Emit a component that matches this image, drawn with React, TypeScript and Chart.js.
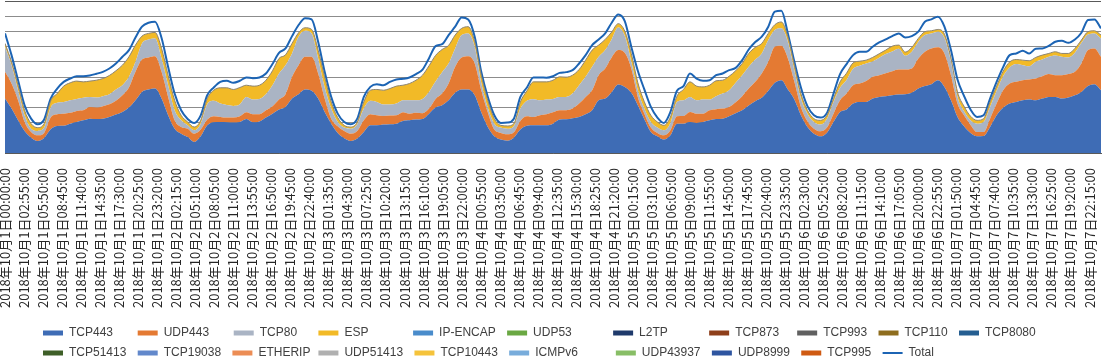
import React, { useEffect, useRef } from 'react';
import { Chart, registerables } from 'chart.js';

Chart.register(...registerables);

// ---- data (hourly samples, 2018-10-01 00:00 .. 2018-10-08 00:00), share of axis (0..100) ----
const SAMPLE_MINUTES = 60;
const X_MAX_MINUTES = 10080;
const TICK_STEP_MINUTES = 175;
const TICK_COUNT = 58;

const TCP443 = [
  35.8, 29.2, 21.5, 14.5, 10.1, 7.9, 9.9, 15.6, 17.8, 18, 19.3, 20.4, 21.5, 22.6, 22.4, 22.6, 23.7, 25.3, 27, 29.9, 34.7, 40.2, 41.8, 42.4, 35.8,
  24.8, 16, 12.7, 10.5, 7.3, 11, 18.2, 20.2, 20.4, 20.2, 20, 20.4, 22.4, 20.2, 20.7, 23.3, 25.9, 28.6, 30.3, 35.8, 38.7, 41.8, 40.9, 35.8,
  27, 19.3, 13.2, 9.7, 7.9, 9.5, 13.8, 18.2, 18.2, 18.7, 18.9, 19.3, 21.1, 21.5, 22, 22.4, 25.9, 29.9, 31.4, 34.7, 39.6, 41.8, 41.8, 38,
  26.8, 17.1, 11, 8.8, 8.1, 10.1, 15.4, 18, 18.2, 18.2, 18.2, 19.3, 22, 22.2, 22.9, 23.7, 25.5, 28.1, 34.7, 35.8, 40, 45.1, 43.5, 39.6,
  31.4, 22.2, 13.8, 11, 8.8, 11.6, 19.3, 19.3, 20.4, 19.8, 20.4, 21.5, 22.4, 22.6, 24.2, 26.2, 28.1, 31.2, 34.1, 36.3, 40.9, 46.2, 47.9, 41.8,
  35.2, 24.8, 17.1, 12.7, 11, 13.4, 20.4, 27, 28.6, 32.5, 33.6, 33.6, 35.8, 36.9, 37.4, 38, 38.5, 38.7, 39.6, 42.4, 44, 45.3, 47.9, 43.5,
  34.7, 23.7, 17.6, 13.2, 11, 11.2, 17.1, 24.8, 29.7, 32.5, 33.6, 34.7, 35.2, 34.7, 35.8, 36.9, 36.9, 35.8, 36.5, 38, 40.2, 44, 45.3, 41.3,
];
const UDP443 = [
  17.6, 16.5, 13.2, 5.9, 3.7, 3.7, 3.3, 7.7, 7.7, 7.9, 7.1, 7.3, 6.6, 7.7, 7.5, 8.2, 8.4, 9, 11, 13.2, 18.7, 21.3, 21.1, 21.3, 17.6,
  12.1, 5.5, 4.4, 5.5, 5.4, 4.4, 3.8, 4, 3.3, 3.1, 3.3, 3.8, 4.4, 5.3, 4.8, 4.8, 4.9, 6.6, 8.4, 14.3, 19.1, 21.5, 22.4, 16.5,
  8.8, 3.3, 4.4, 4.8, 4.8, 5, 7.7, 7.3, 6.6, 5.7, 5.7, 5.5, 5.7, 4.4, 4.4, 3.8, 3.3, 5.7, 7.7, 11, 17.1, 21.1, 21.9, 20.9,
  14.5, 9.7, 4.4, 4.4, 4.2, 3.5, 5.7, 6.2, 5.5, 6.6, 7.3, 7.5, 6.1, 5.9, 6.3, 8.8, 11.4, 13.2, 16.5, 19.8, 22.9, 22.6, 22.4, 16,
  5.5, 3.7, 2.9, 2.2, 2.8, 3.3, 4.9, 5.1, 6.6, 6.1, 5.5, 6.6, 6.4, 6.6, 6.1, 7.2, 9.3, 11.2, 12.7, 16, 19.1, 23.7, 22.6, 20.4,
  11.6, 5.5, 3.8, 3.3, 3.3, 3.3, 5.5, 7.7, 10.5, 12.1, 12.1, 13.7, 14.3, 14.3, 15.1, 15.8, 16.4, 16.2, 16, 19.8, 22.6, 23.5, 21.6, 22,
  16.5, 8.8, 7.2, 5.3, 2.8, 2.6, 5.5, 7.7, 11.6, 13.2, 13.2, 13.2, 13.2, 14.3, 14.7, 15, 14.3, 15.4, 15.4, 15.4, 18.7, 23.7, 23.5, 22,
];
const TCP80 = [
  16.5, 12.1, 6.6, 4.4, 2.2, 2.9, 3.5, 6.6, 7.5, 7.7, 8.3, 7.9, 8.2, 6.6, 6.6, 6.6, 6.6, 7.5, 6.6, 7, 6.6, 10.6, 11.8, 11.7, 8.8,
  7.7, 6.6, 4.4, 2.2, 2.2, 3.9, 10.1, 10.1, 8.8, 8.3, 7.7, 7.9, 10.1, 9.7, 10.1, 10.6, 13.8, 17.1, 19.1, 15.4, 18.7, 17.1, 15.4, 9.9,
  7.3, 6.6, 2.8, 2.2, 3.3, 4.4, 7.7, 8.8, 8.8, 7.5, 7.3, 7.7, 7.9, 8.8, 8.3, 9.4, 11, 11.4, 14.1, 13.2, 12.1, 14.7, 15, 11,
  4.9, 2.9, 3.9, 3.5, 3.7, 4, 8.1, 10.1, 11.7, 9.9, 9.7, 8.8, 8.8, 8.8, 9.9, 12.1, 13.2, 15.4, 12.1, 12.1, 12, 14.9, 11.2, 4.4,
  4.4, 3.3, 3.7, 3.5, 3.3, 4.9, 9.4, 10.3, 9.9, 8.8, 9.3, 7.1, 8.6, 9.9, 11, 12.8, 13.8, 14.3, 14.7, 13.2, 14.3, 11, 11.5, 11,
  7.5, 5.5, 5, 4.4, 4.4, 5.9, 7.7, 8.2, 9, 10.8, 11.7, 11.6, 10.1, 11.4, 12.6, 13, 13.7, 9.1, 11, 11, 11, 9.9, 10.3, 10.3,
  8.8, 4.4, 2.7, 3, 5.5, 6.6, 7.7, 8.4, 9.2, 10.6, 11.7, 9.9, 8.7, 11, 11, 11.4, 13, 12.1, 11, 12.5, 13.6, 10.3, 9.9, 12.1,
];
const ESP = [
  2.2, 2.2, 3.3, 3.3, 3.3, 2.2, 2.6, 4.4, 6.1, 10.4, 11.5, 11.7, 10.5, 10.4, 11.4, 11.6, 12.3, 12.3, 13.2, 13.2, 11, 4.8, 4, 3.9, 6.6,
  6.6, 6.6, 3.3, 2.2, 2.2, 2.2, 3.7, 7, 10.4, 11.3, 10.8, 11, 7.7, 8.8, 9, 9.2, 9.5, 9.9, 6.8, 6.6, 2.6, 2, 2.6, 5.5,
  7, 4.4, 2.9, 1.5, 1.1, 1.5, 4.4, 7, 8.2, 9.4, 10.5, 11.5, 9.9, 11, 13.2, 15.6, 17.2, 17.2, 14.9, 11.9, 8.8, 4.4, 4.4, 3.3,
  5, 5, 3.3, 1.5, 1.8, 1.7, 4.4, 6.6, 11.4, 12.1, 11.6, 12.3, 13.2, 13, 12.1, 10.3, 11, 11, 7.7, 7, 4.7, 2.5, 3.1, 5.5,
  5, 4.5, 4.4, 3.7, 3.3, 3.9, 3.8, 7.1, 9.9, 9.3, 8.3, 9.4, 10.1, 8.8, 9.2, 7.9, 7.7, 8.8, 8, 6.6, 4.4, 3.5, 4.2, 3.3,
  3.5, 3.3, 2.2, 2.2, 2.8, 2.2, 2.2, 3.9, 4.4, 3.9, 3, 2.2, 2.7, 2.7, 2.6, 3.5, 2.4, 2.4, 2.9, 2.2, 2.2, 1.7, 1.5, 2.4,
  2.6, 3.3, 3.3, 2.7, 2.2, 2.2, 3.3, 3.1, 3.3, 3.6, 3, 3.3, 3.6, 2.9, 2.9, 2.2, 2.4, 2.2, 2.6, 2.9, 1.8, 1.8, 1.7, 2.2,
];
const TOTAL = [
  78.7, 64.4, 47.9, 31.4, 22.6, 18.9, 22, 35.8, 42.4, 46.8, 49, 50.5, 50.5, 51, 52.1, 53.4, 55.6, 58.9, 63.3, 67.7, 76, 83.1, 85.7, 86.4, 75.6,
  56.7, 39.1, 28.1, 22.4, 19.8, 24.8, 38, 43.1, 46.8, 47.5, 46.2, 47.5, 49.7, 49.2, 49.7, 52.3, 58.5, 65.9, 68.8, 76.9, 84.2, 88.6, 87.9, 73.2,
  53.4, 36.9, 25.9, 20.4, 18.9, 22.6, 36.9, 43.5, 45.3, 44.6, 46.8, 48.4, 48.8, 49.7, 51.9, 54.9, 62.4, 70.3, 71.6, 77.6, 83.1, 89.2, 87.9, 76.5,
  53.4, 36.9, 24.8, 19.8, 20, 22.6, 36.9, 43.1, 49.7, 49.7, 49.5, 50.5, 52.7, 53.2, 54.5, 58.9, 64.4, 71, 74.7, 78.7, 85.7, 91.2, 86.8, 69.9,
  54.1, 41.8, 30.3, 23.3, 19.8, 27, 40.9, 44, 52.3, 49, 47.5, 47.9, 51.2, 52.3, 54.5, 56, 61.1, 68.1, 73, 76.5, 83.1, 93, 93.6, 78.7,
  60, 43.1, 30.8, 24.8, 23.3, 26.4, 39.1, 51.9, 58.5, 64.4, 66.6, 66.6, 69.9, 72.7, 74.7, 76.9, 78.7, 76, 76.9, 79.8, 86.4, 87.9, 89.7, 83.1,
  67.7, 48.4, 37.6, 28.6, 23.7, 24.8, 35.8, 46.8, 56.5, 64.4, 65.5, 67.3, 65.5, 68.6, 68.8, 70.5, 73.2, 73.8, 72.5, 74.7, 79.1, 87.5, 87.9, 82,
];

// minor protocols: present in the legend, too small to be seen in the plot
const MINOR_LABELS = [
  'IP-ENCAP', 'UDP53', 'L2TP', 'TCP873', 'TCP993', 'TCP110', 'TCP8080',
  'TCP51413', 'TCP19038', 'ETHERIP', 'UDP51413', 'TCP10443', 'ICMPv6', 'UDP43937', 'UDP8999', 'TCP995',
];
const MINOR_COLORS = [
  '#4A8CCB', '#6AA843', '#1F3A6B', '#8E3F1A', '#606060', '#8E6D1E', '#255E91',
  '#3E5F28', '#6288CB', '#EC8D55', '#B0B0B0', '#F5C33B', '#78ACDB', '#88BE66', '#2E55A0', '#CF5A12',
];

const TICK_LABELS = Array.from({ length: TICK_COUNT }, (_, k) => {
  const m = k * TICK_STEP_MINUTES;
  const day = 1 + Math.floor(m / 1440);
  const hh = Math.floor((m % 1440) / 60);
  const mm = m % 60;
  const p = (n: number) => String(n).padStart(2, '0');
  return `2018年10月${day}日${p(hh)}:${p(mm)}:00`;
});

// ---- style ----
const LEGEND_FONT = { size: 12, family: '"Liberation Sans", Arial, sans-serif' };
const LEGEND_PITCH = [96, 95, 84, 96, 94, 106, 96, 89, 80, 80, 80];
const LEGEND_LEFT = 35;

const toPoints = (arr: number[]) => arr.map((y, i) => ({ x: i * SAMPLE_MINUTES, y }));

function padToWidth(text: string, target: number, font: string) {
  const c = document.createElement('canvas').getContext('2d')!;
  c.font = font;
  let t = text;
  while (Math.abs(c.measureText(t + ' ').width - target) < Math.abs(c.measureText(t).width - target)) t += ' ';
  return t;
}

const legendOffset = {
  id: 'legendOffset',
  afterLayout(chart: any) {
    if (chart.legend) chart.legend.left = LEGEND_LEFT;
  },
};

export default function App() {
  const ref = useRef<HTMLCanvasElement>(null);
  useEffect(() => {
    document.body.style.margin = '0';
    const area = (label: string, data: number[], color: string, fill: any, extra: any = {}) => ({
      label,
      data: toPoints(data),
      backgroundColor: color,
      borderColor: color,
      borderWidth: 0,
      fill,
      pointRadius: 0,
      pointStyle: 'rect',
      stack: 'traffic',
      cubicInterpolationMode: 'monotone',
      ...extra,
    });
    const datasets: any[] = [
      area('TCP443', TCP443, '#3E6CB5', 'origin'),
      area('UDP443', UDP443, '#E47A33', '-1'),
      area('TCP80', TCP80, '#AAB4C4', '-1'),
      area('ESP', ESP, '#F2BA27', '-1', { borderColor: '#8C8473', borderWidth: 1 }),
      ...MINOR_LABELS.map((l, i) => area(l, [], MINOR_COLORS[i], false)),
      {
        label: 'Total',
        data: toPoints(TOTAL),
        borderColor: '#1C64B4',
        backgroundColor: '#1C64B4',
        borderWidth: 2,
        fill: false,
        pointRadius: 0,
        pointStyle: 'line',
        stack: 'total',
        cubicInterpolationMode: 'monotone',
      },
    ];
    const fontStr = `${LEGEND_FONT.size}px ${LEGEND_FONT.family}`;
    const chart = new Chart(ref.current!, {
      type: 'line',
      data: { datasets },
      plugins: [legendOffset],
      options: {
        animation: false,
        responsive: true,
        maintainAspectRatio: false,
        devicePixelRatio: 1,
        layout: { padding: { top: 1, bottom: -10, left: 0, right: 0 } },
        plugins: {
          tooltip: { enabled: false },
          legend: {
            position: 'bottom',
            align: 'start',
            labels: {
              usePointStyle: true,
              pointStyleWidth: 20,
              boxWidth: 20,
              boxHeight: 5,
              padding: 8,
              color: '#404040',
              font: LEGEND_FONT,
              generateLabels(c: any) {
                const items = Chart.defaults.plugins.legend.labels.generateLabels(c);
                items.forEach((it: any, i: number) => {
                  const col = i < 11 ? i : i - 11;
                  it.text = padToWidth(it.text, LEGEND_PITCH[col] - 34, fontStr);
                  if (it.pointStyle !== 'line') it.lineWidth = 0;
                });
                return items;
              },
            },
          },
        },
        scales: {
          x: {
            type: 'linear',
            min: 0,
            max: X_MAX_MINUTES,
            bounds: 'data',
            grid: { display: false, drawTicks: false, tickLength: 0 },
            border: { display: true, color: '#595959', width: 1, z: 1 },
            ticks: {
              autoSkip: false,
              minRotation: 90,
              maxRotation: 90,
              padding: 15,
              color: '#262626',
              font: { size: 13, family: '"Noto Sans CJK JP", sans-serif' },
              callback: (v: any) => TICK_LABELS[Math.round(Number(v) / TICK_STEP_MINUTES)] ?? '',
            },
            afterBuildTicks: (s: any) => {
              s.ticks = TICK_LABELS.map((_, k) => ({ value: k * TICK_STEP_MINUTES }));
            },
            afterFit: (s: any) => {
              s.height = 166;
              s.paddingLeft = 5;
              s.paddingRight = 2;
            },
          },
          y: {
            stacked: true,
            min: 0,
            max: 100,
            ticks: { display: false, stepSize: 10 },
            grid: {
              drawTicks: false,
              color: (ctx: any) => (ctx.tick && ctx.tick.value === 100 ? '#595959' : '#8C8C8C'),
            },
            border: { display: false },
          },
        },
      } as any,
    });
    return () => chart.destroy();
  }, []);
  return (
    <div style={{ width: 1103, height: 359, position: 'relative' }}>
      <canvas ref={ref} />
    </div>
  );
}
